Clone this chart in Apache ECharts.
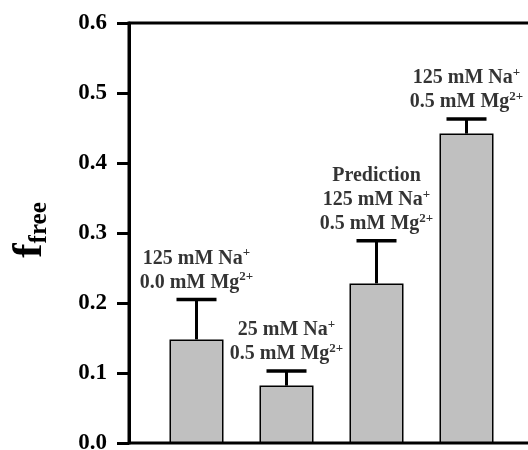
<!DOCTYPE html>
<html>
<head>
<meta charset="utf-8">
<script src="https://cdn.jsdelivr.net/npm/echarts@6/dist/echarts.min.js"></script>
<style>html,body{margin:0;padding:0;background:#fff}#c{width:528px;height:450px}</style>
</head>
<body>
<div id="c"></div>
<script>
// Data
var positions = [1, 2, 3, 4];
var values = [0.148, 0.082, 0.228, 0.442];
var errors = [0.057, 0.021, 0.061, 0.021];
var labelLines = [
  ['125 mM Na{sup|+}', '0.0 mM Mg{sup|2+}'],
  ['25 mM Na{sup|+}', '0.5 mM Mg{sup|2+}'],
  ['Prediction', '125 mM Na{sup|+}', '0.5 mM Mg{sup|2+}'],
  ['125 mM Na{sup|+}', '0.5 mM Mg{sup|2+}']
];
var yTicks = [0, 0.1, 0.2, 0.3, 0.4, 0.5, 0.6];

var FONT = '"Liberation Serif", "Times New Roman", serif';

var barData = positions.map(function (p, i) { return [p, values[i]]; });
var errData = positions.map(function (p, i) { return [p, values[i], values[i] + errors[i]]; });
var labelData = positions.map(function (p, i) { return [p, values[i] + errors[i]]; });

var chart = echarts.init(document.getElementById('c'), null, {renderer: 'canvas'});
chart.setOption({
  animation: false,
  backgroundColor: '#fff',
  grid: {
    left: 129, top: 23, width: 405, height: 420,
    containLabel: false, outerBoundsMode: 'none',
    show: true, borderColor: '#000', borderWidth: 3, backgroundColor: 'transparent'
  },
  xAxis: {
    type: 'value', min: 0.25, max: 4.75,
    axisLine: {show: false}, axisTick: {show: false}, axisLabel: {show: false}, splitLine: {show: false}
  },
  yAxis: {
    type: 'value', min: yTicks[0], max: yTicks[yTicks.length - 1], interval: 0.1,
    axisLine: {show: true, lineStyle: {color: '#000', width: 3}},
    axisTick: {show: true, length: 12, lineStyle: {color: '#000', width: 3}},
    splitLine: {show: false},
    axisLabel: {
      margin: 22, color: '#000', fontFamily: FONT, fontWeight: 'bold', fontSize: 23,
      formatter: function (v) { return v.toFixed(1); }
    }
  },
  graphic: [{
    type: 'text', x: 30, y: 230, rotation: Math.PI / 2,
    style: {
      text: '{f|f}{s|free}',
      align: 'center', verticalAlign: 'middle',
      rich: {
        f: {fontFamily: FONT, fontWeight: 'bold', fontSize: 43, lineHeight: 44, verticalAlign: 'top', fill: '#000'},
        s: {fontFamily: FONT, fontWeight: 'bold', fontSize: 25, lineHeight: 25, verticalAlign: 'bottom', fill: '#000'}
      }
    }
  }],
  series: [{
    type: 'bar',
    data: barData,
    barWidth: 54,
    itemStyle: {color: '#c0c0c0', borderColor: '#000', borderWidth: 1.5},
    z: 2
  }, {
    type: 'custom',
    data: errData,
    z: 3,
    renderItem: function (params, api) {
      var x = api.value(0);
      var base = api.coord([x, api.value(1)]);
      var top = api.coord([x, api.value(2)]);
      var half = 20;
      return {
        type: 'group',
        children: [{
          type: 'line', shape: {x1: base[0], y1: base[1], x2: top[0], y2: top[1]},
          style: {stroke: '#000', lineWidth: 3}
        }, {
          type: 'line', shape: {x1: top[0] - half, y1: top[1], x2: top[0] + half, y2: top[1]},
          style: {stroke: '#000', lineWidth: 3.5}
        }]
      };
    }
  }, {
    type: 'scatter',
    data: labelData,
    symbolSize: 0,
    z: 4,
    label: {
      show: true, position: 'top', distance: 5,
      formatter: function (p) { return labelLines[p.dataIndex].join('\n'); },
      color: '#000', fontFamily: FONT, fontWeight: 'bold', fontSize: 20, lineHeight: 24, align: 'center',
      rich: {
        sup: {fontFamily: FONT, fontWeight: 'bold', fontSize: 13, lineHeight: 14, verticalAlign: 'top', color: '#000'}
      }
    }
  }]
});
</script>
</body>
</html>
